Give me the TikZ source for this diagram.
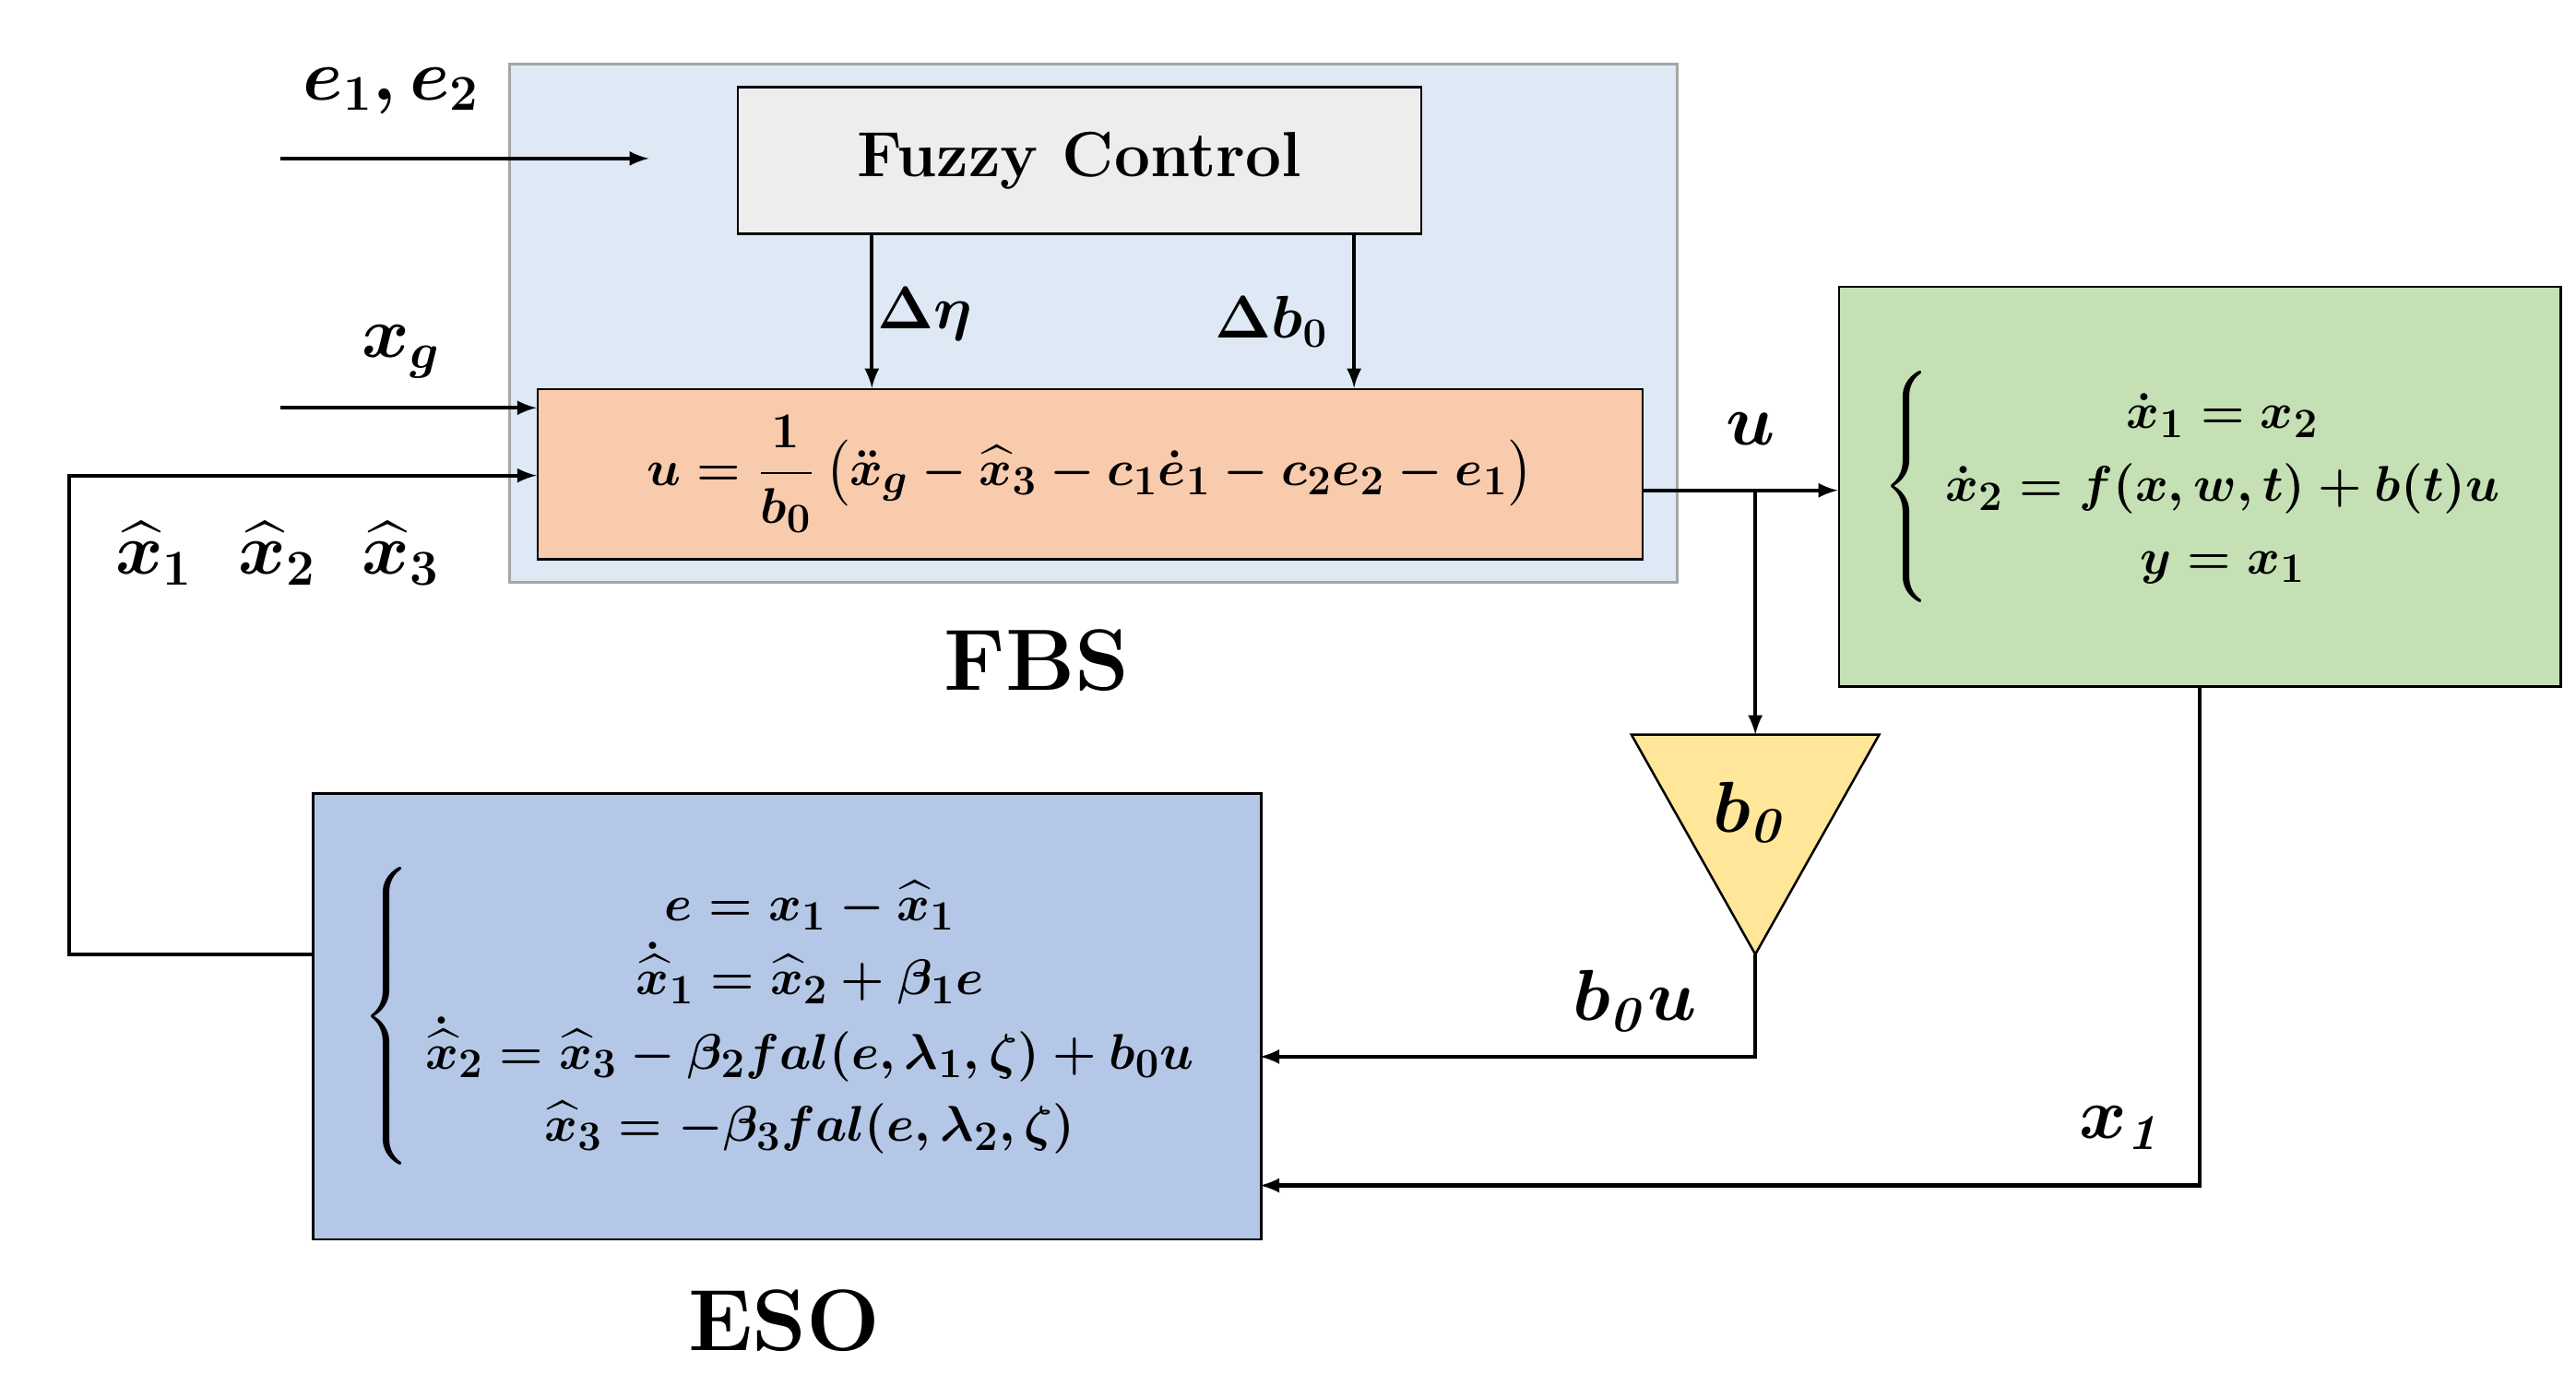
\documentclass[tikz,border=0pt]{standalone}
\usepackage{amsmath,amssymb,bm}
\usetikzlibrary{arrows,positioning,calc}
\definecolor{fbsblue}{HTML}{DEE9F5}
\definecolor{fuzzgray}{HTML}{EDEDED}
\definecolor{ctrlorange}{HTML}{F8CBAD}
\definecolor{plantgreen}{HTML}{C5E0B4}
\definecolor{esoblue}{HTML}{B4C7E7}
\definecolor{gainyellow}{HTML}{FFE699}
\begin{document}
\begin{tikzpicture}[
            x=0.02cm,y=-0.02cm,
            blk/.style={draw,line width=0.8pt,inner sep=0pt,anchor=north west},
            eq/.style={font=\fontsize{19}{25}\selectfont\boldmath},
            lbl/.style={font=\fontsize{24}{28}\selectfont\boldmath},
            big/.style={font=\fontsize{30}{34}\selectfont\bfseries},
            sig/.style={->,line width=1.3pt},
            >=latex
        ]
        \useasboundingbox (0,0) rectangle (1560,839);

        % Draw blocks %
        \node[blk,draw=gray!70,fill=fbsblue,minimum width=707*0.02cm,minimum height=314*0.02cm] (fbs) at (308,38) {};
        \node[blk,fill=fuzzgray,minimum width=414*0.02cm,minimum height=89*0.02cm,
              font=\fontsize{22}{26}\selectfont\bfseries] (fuzzy) at (446,52) {Fuzzy Control};
        \node[blk,fill=ctrlorange,minimum width=669*0.02cm,minimum height=103*0.02cm,eq] (ctrl) at (325,235)
            {$u=\dfrac{1}{b_0}\left(\ddot{x}_g-\widehat{x}_3-c_1\dot{e}_1-c_2e_2-e_1\right)$};
        \node[blk,fill=plantgreen,minimum width=437*0.02cm,minimum height=242*0.02cm,eq] (plant) at (1113,173)
            {$\left\{\begin{array}{c}\dot{x}_1=x_2\\ \dot{x}_2=f(x,w,t)+b(t)u\\ y=x_1\end{array}\right.$};
        \node[blk,fill=esoblue,minimum width=574*0.02cm,minimum height=270*0.02cm,eq] (eso) at (189,480)
            {$\left\{\begin{array}{c}e=x_1-\widehat{x}_1\\ \dot{\widehat{x}}_1=\widehat{x}_2+\beta_1e\\
              \dot{\widehat{x}}_2=\widehat{x}_3-\beta_2 fal(e,\lambda_1,\zeta)+b_0u\\
              \widehat{x}_3=-\beta_3 fal(e,\lambda_2,\zeta)\end{array}\right.$};

        % Draw gain %
        \coordinate (gl) at (988,445);
        \coordinate (gr) at (1138,445);
        \coordinate (gtip) at (1063,578);
        \coordinate (gtop) at (1063,445);
        \draw[line width=0.8pt,fill=gainyellow] (gl) -- (gr) -- (gtip) -- cycle;
        \node[lbl] (gain) at (1060,492) {$\bm{b_{\mathit{0}}}$};

        % Draw signals %
        \coordinate (ein) at (170,96);
        \coordinate (eend) at (393,96);
        \draw[sig] (ein) -- (eend);
        \node[lbl] (elbl) at (237,55) {$e_1,e_2$};

        \coordinate (xgin) at (170,247);
        \draw[sig] (xgin) -- (xgin -| ctrl.west);
        \node[lbl] (xglbl) at (243,213) {$x_g$};

        \draw[sig] (528,141) -- (528,235);
        \node[lbl,font=\fontsize{20}{24}\selectfont\boldmath] (deta) at (560,190) {$\Delta\eta$};
        \draw[sig] (820,141) -- (820,235);
        \node[lbl,font=\fontsize{20}{24}\selectfont\boldmath] (db) at (770,195) {$\Delta b_0$};

        \coordinate (fbk) at (42,578);
        \draw[sig] (eso.west |- fbk) -- (fbk) -- (42,288) -- (325,288);
        \node[lbl] (xhat) at (168,335) {$\widehat{x}_1\;\;\widehat{x}_2\;\;\widehat{x}_3$};

        \coordinate (ubr) at (1063,297);
        \draw[sig] (994,297) -- (1113,297);
        \draw[sig] (ubr) -- (gtop);
        \node[lbl] (ulbl) at (1060,260) {$u$};

        \coordinate (bu) at (1063,640);
        \draw[sig] (gtip) -- (bu) -- (763,640);
        \node[lbl] (bulbl) at (990,606) {$\bm{b_{\mathit{0}}u}$};

        \coordinate (xo) at (1332,718);
        \draw[sig] (1332,415) -- (xo) -- (763,718);
        \node[lbl] (xolbl) at (1285,683) {$\bm{x_{\mathit{1}}}$};

        % Label %
        \node[big] (fbslbl) at (628,400) {FBS};
        \node[big] (esolbl) at (475,800) {ESO};
        \end{tikzpicture}
\end{document}
